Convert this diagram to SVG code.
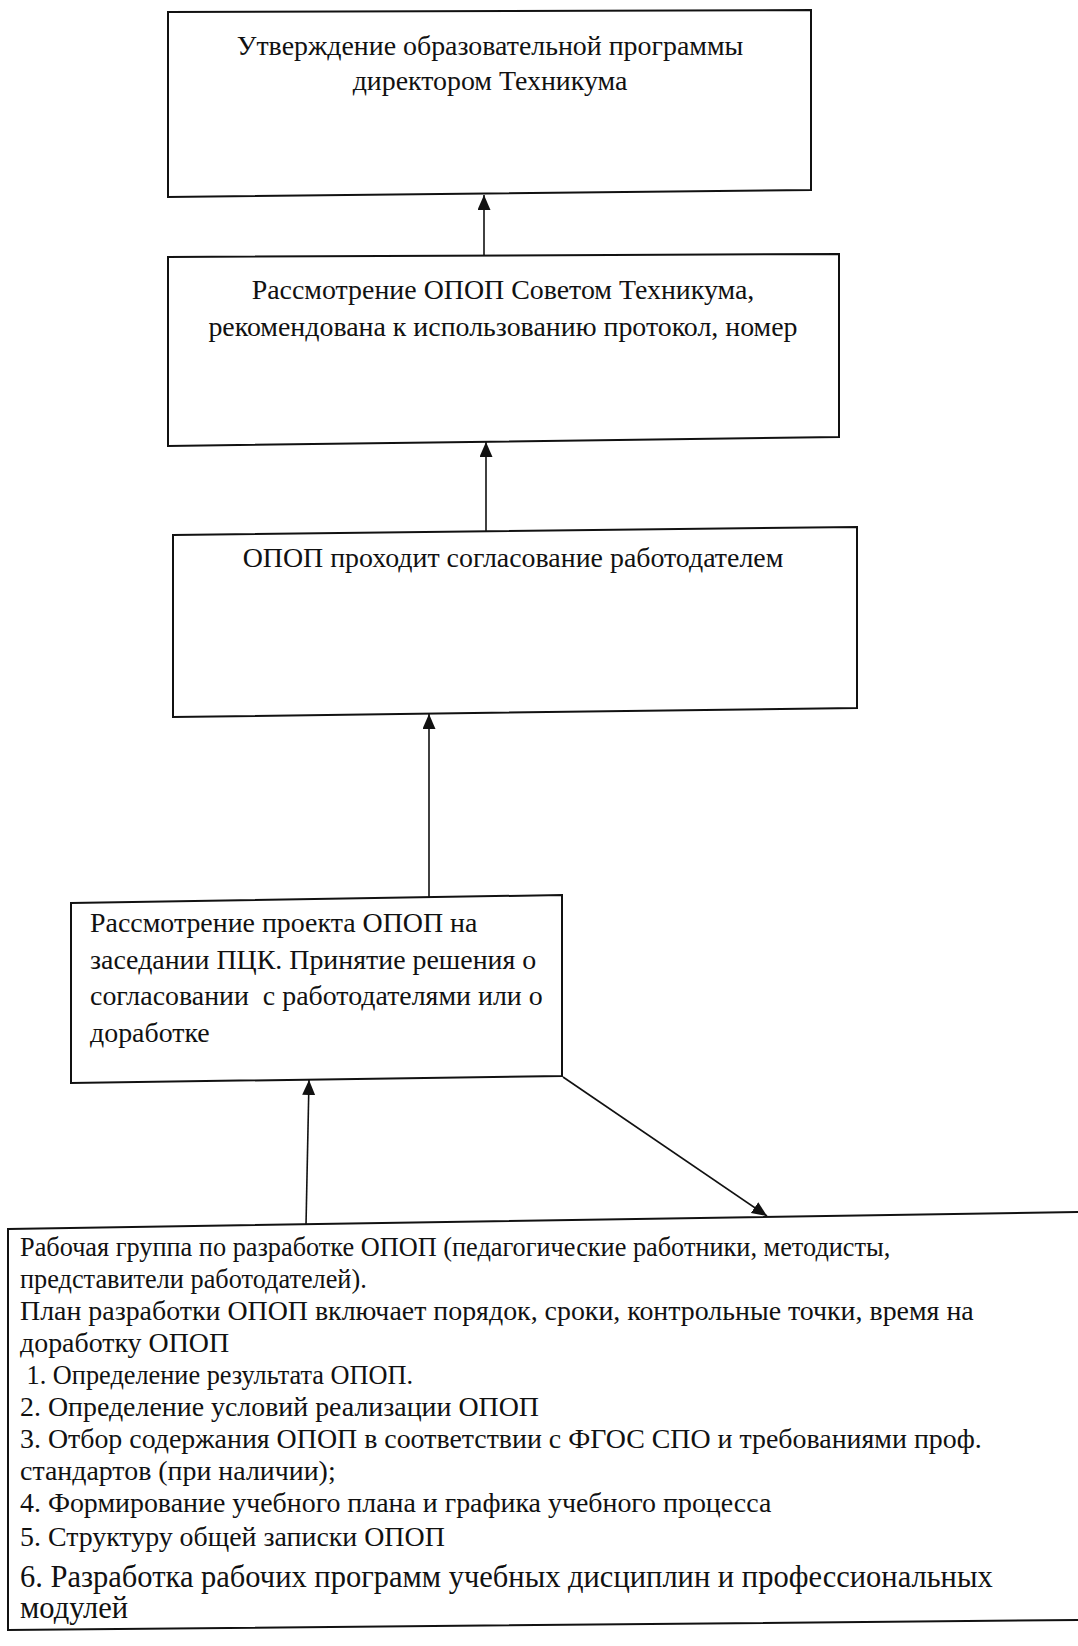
<svg xmlns="http://www.w3.org/2000/svg" width="1078" height="1646" viewBox="0 0 1078 1646">
<style>
.box{fill:#fff;stroke:#111;stroke-width:2}
.t{font-family:"Liberation Serif","Times New Roman",serif;font-size:27.9px;fill:#111}
.tc{text-anchor:middle}
.m{font-size:26.3px}
.b{font-size:30.5px}
.con{stroke:#111;stroke-width:1.6;fill:none}
</style>
<defs>
<marker id="ah" markerUnits="userSpaceOnUse" markerWidth="16" markerHeight="14" refX="15" refY="6.5" orient="auto">
<path d="M0,0 L15,6.5 L0,13 z" fill="#111"/>
</marker>
</defs>
<rect width="1078" height="1646" fill="#fff"/>

<g id="n1">
<path class="box" d="M168,12 L811,10 L811,190 L168,197 Z"/>
<text class="t tc" x="490" y="55">Утверждение образовательной программы</text>
<text class="t tc" x="490" y="90">директором Техникума</text>
</g>

<g id="n2">
<path class="box" d="M168,257 L839,254 L839,437 L168,446 Z"/>
<text class="t tc" x="503" y="299">Рассмотрение ОПОП Советом Техникума,</text>
<text class="t tc" x="503" y="336">рекомендована к использованию протокол, номер</text>
</g>

<g id="n3">
<path class="box" d="M173,535 L857,527 L857,708 L173,717 Z"/>
<text class="t tc" x="513" y="567">ОПОП проходит согласование работодателем</text>
</g>

<g id="n4">
<path class="box" d="M71,903 L562,895 L562,1076 L71,1083 Z"/>
<text class="t" x="90" y="932">Рассмотрение проекта ОПОП на</text>
<text class="t" x="90" y="969">заседании ПЦК. Принятие решения о</text>
<text class="t" x="90" y="1005" xml:space="preserve">согласовании  с работодателями или о</text>
<text class="t" x="90" y="1042">доработке</text>
</g>

<g id="n5">
<path class="box" d="M8,1229 L1082,1212 L1082,1620 L8,1630 Z"/>
<text class="t m" x="20" y="1256">Рабочая группа по разработке ОПОП (педагогические работники, методисты,</text>
<text class="t m" x="20" y="1288">представители работодателей).</text>
<text class="t" x="20" y="1320">План разработки ОПОП включает порядок, сроки, контрольные точки, время на</text>
<text class="t" x="20" y="1352">доработку ОПОП</text>
<text class="t m" x="20" y="1384" xml:space="preserve"> 1. Определение результата ОПОП.</text>
<text class="t" x="20" y="1416">2. Определение условий реализации ОПОП</text>
<text class="t" x="20" y="1448">3. Отбор содержания ОПОП в соответствии с ФГОС СПО и требованиями проф.</text>
<text class="t" x="20" y="1480">стандартов (при наличии);</text>
<text class="t" x="20" y="1512">4. Формирование учебного плана и графика учебного процесса</text>
<text class="t" x="20" y="1546">5. Структуру общей записки ОПОП</text>
<text class="t b" x="20" y="1587">6. Разработка рабочих программ учебных дисциплин и профессиональных</text>
<text class="t b" x="20" y="1618">модулей</text>
</g>

<g id="connectors">
<line class="con" x1="484" y1="256" x2="484" y2="195" marker-end="url(#ah)"/>
<line class="con" x1="486" y1="531" x2="486" y2="442" marker-end="url(#ah)"/>
<line class="con" x1="429" y1="897" x2="429" y2="714" marker-end="url(#ah)"/>
<line class="con" x1="306" y1="1225" x2="309" y2="1080" marker-end="url(#ah)"/>
<line class="con" x1="563" y1="1077" x2="767" y2="1216" marker-end="url(#ah)"/>
</g>
</svg>
